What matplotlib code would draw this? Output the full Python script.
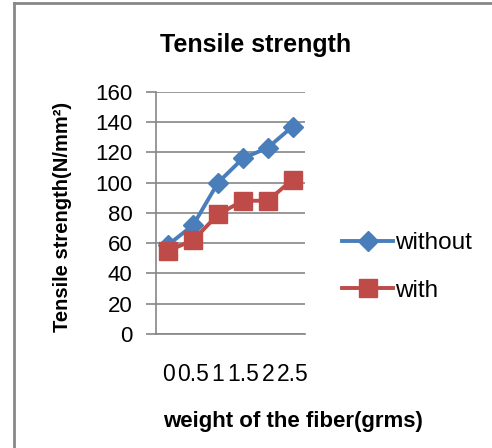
import matplotlib
matplotlib.use("Agg")
import matplotlib.pyplot as plt
from matplotlib.lines import Line2D

plt.rcParams["font.family"] = ["Liberation Sans", "DejaVu Sans"]

categories = ["0", "0.5", "1", "1.5", "2", "2.5"]
without = [59, 72, 100, 116, 123, 137]
with_fiber = [55, 62, 79, 88, 88, 102]
yticks = [0, 20, 40, 60, 80, 100, 120, 140, 160]

W, H = 492, 448
fig = plt.figure(figsize=(W / 100, H / 100), dpi=100)
ax = fig.add_axes([156 / W, 1 - 334 / H, 149 / W, (334 - 91.7) / H])

x = range(len(categories))
ax.plot(x, without, color="#4A7EBB", lw=2.8, marker="D", ms=10,
        label="without", zorder=3)
ax.plot(x, with_fiber, color="#BE4B48", lw=2.8, marker="s", ms=13,
        label="with", zorder=3)

ax.set_xlim(-0.5, len(categories) - 0.5)
ax.set_ylim(0, 160)
ax.set_yticks(yticks)
ax.set_xticks(list(x))
ax.set_xticklabels(categories)
ax.yaxis.grid(True, color="#868686", lw=1.2)
ax.set_axisbelow(True)
for s in ["top", "right"]:
    ax.spines[s].set_visible(False)
for s in ["left", "bottom"]:
    ax.spines[s].set_color("#868686")
    ax.spines[s].set_linewidth(1.2)
ax.tick_params(axis="y", length=7, width=1.2, color="#868686", pad=10,
               labelsize=16)
ax.tick_params(axis="x", length=0, pad=21, labelsize=16.5)

fig.text(256 / W, 1 - 45 / H, "Tensile strength", ha="center", va="center",
         fontsize=18, fontweight="bold")
fig.text(293 / W, 1 - 421 / H, "weight of the fiber(grms)", ha="center",
         va="center", fontsize=16, fontweight="bold")
fig.text(63 / W, 1 - 217 / H, "Tensile strength(N/mm²)", ha="center",
         va="center", rotation=90, fontsize=14.5, fontweight="bold")

ax.legend(loc="upper left", bbox_to_anchor=(342 / W, 1 - 232 / H),
          bbox_transform=fig.transFigure, frameon=False, fontsize=17.5,
          handlelength=2.1, handletextpad=0.1, borderpad=0, labelspacing=1.05,
          borderaxespad=0)

# chart border (left and top visible)
fig.add_artist(Line2D([14 / W, 14 / W], [0, 1 - 3 / H], color="#878787", lw=2))
fig.add_artist(Line2D([14 / W, 1], [1 - 3 / H, 1 - 3 / H], color="#878787", lw=2))

fig.savefig("out.png", dpi=100)
